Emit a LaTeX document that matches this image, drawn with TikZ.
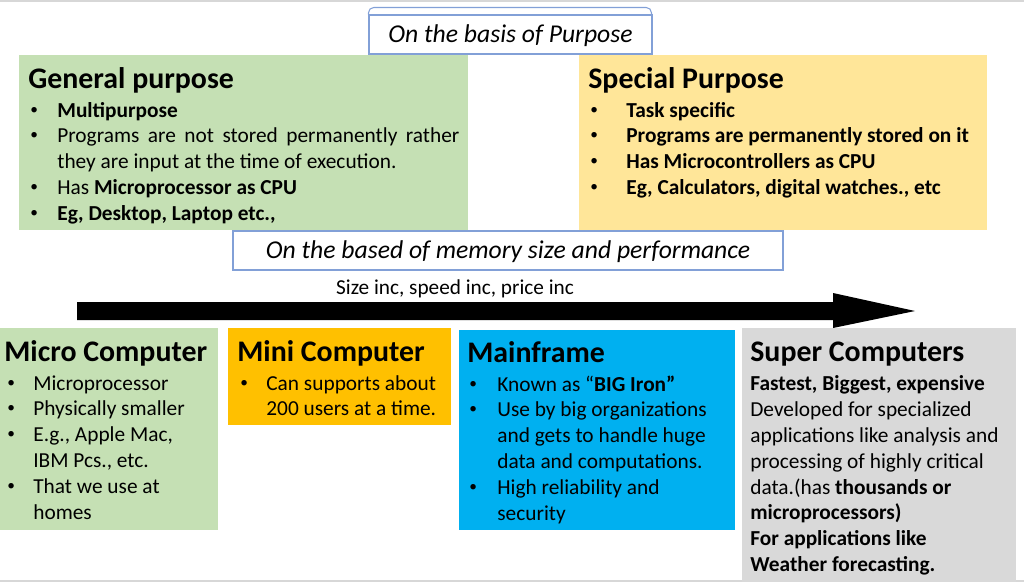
\documentclass[tikz,border=0pt]{standalone}
\usepackage{fontspec}
\usepackage{graphicx}
\setmainfont{Carlito}
\usetikzlibrary{positioning}
\definecolor{mygreen}{RGB}{197,224,180}
\definecolor{myyellow}{RGB}{255,230,153}
\definecolor{myorange}{RGB}{255,192,0}
\definecolor{mycyan}{RGB}{0,176,240}
\definecolor{mygray}{RGB}{217,217,217}
\definecolor{myframe}{RGB}{130,160,215}
\definecolor{myrule}{RGB}{215,215,215}
\newlength\pxu \setlength\pxu{0.02cm}
\newcommand\hd[1]{{\fontsize{17}{20}\selectfont\bfseries #1\par}\vspace{3\pxu}}
\newcommand\dotmark{\raisebox{0.3ex}{\scalebox{0.72}{\mdseries\textbullet}}}
\newcommand\itm[3]{\par\hangindent=#2\pxu\hangafter=1\noindent\makebox[#2\pxu][l]{\hspace{#1\pxu}\dotmark}#3}
\newcommand\panelbox[5]{\parbox[c][#2\pxu][t]{#1\pxu}{\setlength\leftskip{#3\pxu}\setlength\parindent{0pt}\fontsize{12.15}{14.7}\selectfont\vspace*{#4\pxu}#5\par}}

\begin{document}
\begin{tikzpicture}[x=0.02cm,y=-0.02cm,inner sep=0pt]
\tikzstyle{panel}=[anchor=north west]
\tikzstyle{caption}=[draw=myframe, line width=0.6pt, fill=white, text depth=1.3pt, font=\itshape\fontsize{14.6}{16}\selectfont]
\tikzstyle{note}=[font=\fontsize{12.1}{14}\selectfont]
\tikzstyle{rule}=[myrule, line width=1pt]
\useasboundingbox (0,0) rectangle (1024,582);
\draw[rule] (0,1) -- (1024,1);
\draw[rule] (0,581) -- (1024,581);
% classification by purpose
\node[caption, minimum width=283\pxu, minimum height=39\pxu] (purpose) at (510.5,34.5) {On the basis of Purpose};
\draw[myframe, line width=0.6pt, rounded corners=3pt] (purpose.north west) -- ++(0,-7) -- ++(283,0) -- ++(0,7);
\node[panel, fill=mygreen] (general) at (19,55) {\panelbox{449}{175}{9}{12}{\setlength\rightskip{9\pxu}%
\hd{General purpose}
\itm{2}{29}{\textbf{Multipurpose}}
\itm{2}{29}{Programs are not stored permanently rather\linebreak they are input at the time of execution.}
\itm{2}{29}{Has \textbf{Microprocessor as CPU}}
\itm{2}{29}{\textbf{Eg, Desktop, Laptop etc.,}}}};
\node[panel, fill=myyellow] (special) at (579,55) {\panelbox{408}{175}{9}{12}{%
\hd{Special Purpose}
\bfseries
\itm{2}{38}{Task specific}
\itm{2}{38}{Programs are permanently stored on it}
\itm{2}{38}{Has Microcontrollers as CPU}
\itm{2}{38}{Eg, Calculators, digital watches., etc}}};
% classification by size
\node[caption, minimum width=550\pxu, minimum height=39\pxu] (memory) at (508,250.5) {On the based of memory size and performance};
\node[note] (growth) at (455,289) {Size inc, speed inc, price inc};
\fill (77,302) -- (833,302) -- (833,293) -- (915,311) -- (833,328) -- (833,320) -- (77,320) -- cycle;
\node[panel, fill=mygreen] (micro) at (0,328) {\panelbox{218}{202}{4}{12}{%
\hd{Micro Computer}
\itm{3}{29}{Microprocessor}
\itm{3}{29}{Physically smaller}
\itm{3}{29}{E.g., Apple Mac,\\ IBM Pcs., etc.}
\itm{3}{29}{That we use at\\ homes}}};
\node[panel, fill=myorange] (mini) at (228,328) {\panelbox{223}{97}{9}{12}{%
\hd{Mini Computer}
\itm{3}{29}{Can supports about\\ 200 users at a time.}}};
\node[panel, fill=mycyan] (mainframe) at (459,330) {\panelbox{276}{200}{8}{11}{%
\hd{Mainframe}
\itm{2}{30}{Known as “\textbf{BIG Iron”}}
\itm{2}{30}{Use by big organizations\\ and gets to handle huge\\ data and computations.}
\itm{2}{30}{High reliability and\\ security}}};
\node[panel, fill=mygray] (super) at (742,328) {\panelbox{274}{254}{8}{14}{%
\hd{Super Computers}
\noindent\textbf{Fastest, Biggest, expensive}\\
Developed for specialized\\
applications like analysis and\\
processing of highly critical\\
data.(has \textbf{thousands or}\\
\textbf{microprocessors)}\\
\textbf{For applications like}\\
\textbf{Weather forecasting.}}};
\end{tikzpicture}
\end{document}
